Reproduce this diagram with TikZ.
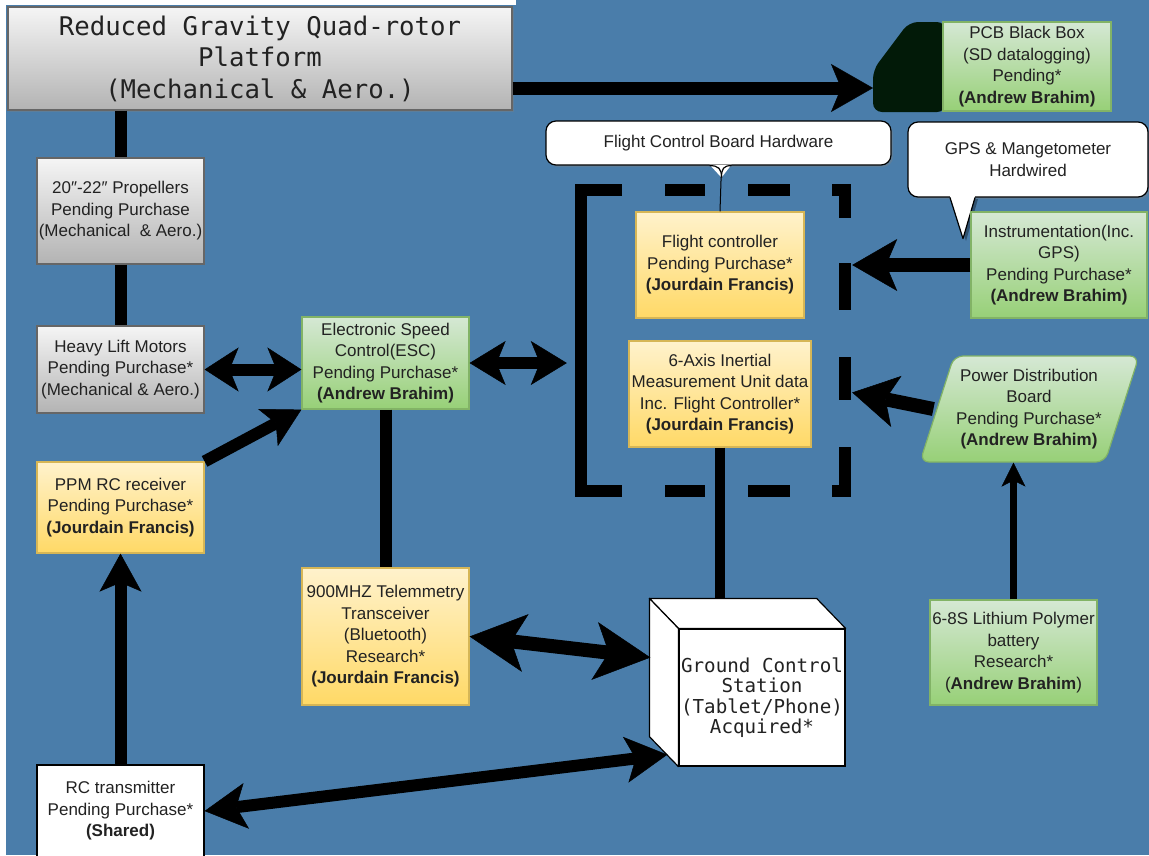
\documentclass[tikz,border=0pt]{standalone}
\usepackage{fontspec}
\usetikzlibrary{arrows.meta,calc,shadows}
\newfontfamily\arialf{Liberation Sans}
\newfontfamily\monof{DejaVu Sans Mono}
\definecolor{bgblue}{HTML}{4A7DAA}
\definecolor{gtop}{HTML}{F5F5F5}
\definecolor{gbot}{HTML}{B3B3B3}
\definecolor{gline}{HTML}{666666}
\definecolor{grtop}{HTML}{D5E8D4}
\definecolor{grbot}{HTML}{97D077}
\definecolor{grline}{HTML}{82B366}
\definecolor{ytop}{HTML}{FFF2CC}
\definecolor{ybot}{HTML}{FFD966}
\definecolor{yline}{HTML}{D6B656}
\definecolor{txt}{HTML}{222222}
\definecolor{bbfill}{HTML}{021A08}
\newcommand\boxfont{\arialf\fontsize{17}{21.5}\selectfont}
\newcommand\titlefont{\monof\fontsize{25.7}{31.5}\selectfont}
\newcommand\gcsfont{\monof\fontsize{19.2}{20.5}\selectfont}
\tikzset{
  box/.style={rectangle, draw, line width=1.2pt, inner sep=0pt, align=center, text=txt, font=\boxfont},
  graybox/.style={box, draw=gline, top color=gtop, bottom color=gbot},
  greenbox/.style={box, draw=grline, top color=grtop, bottom color=grbot},
  yellowbox/.style={box, draw=yline, top color=ytop, bottom color=ybot},
  whitebox/.style={box, draw=black, fill=white},
  callout/.style={box, draw=black, fill=white, rounded corners=10pt},
  conn/.style={draw=black, line width=12pt},
  hT/.tip={Stealth[length=42pt,width=48pt,inset=10pt,line width=0.5pt]},
  hM/.tip={Stealth[length=34pt,width=44pt,inset=9pt,line width=0.5pt]},
  hE/.tip={Stealth[length=36pt,width=44pt,inset=9pt,line width=0.5pt]},
  hP/.tip={Stealth[length=38pt,width=42pt,inset=9pt,line width=0.5pt]},
  hR/.tip={Stealth[length=42pt,width=46pt,inset=10pt,line width=0.5pt]},
  hG/.tip={Stealth[length=56pt,width=58pt,inset=14pt,line width=0.5pt]},
  hI/.tip={Stealth[length=45pt,width=52pt,inset=11pt,line width=0.5pt]},
  hB/.tip={Stealth[length=24pt,width=24pt,inset=6pt,line width=0.5pt]},
}
\begin{document}
\begin{tikzpicture}[x=1pt,y=-1pt]
\useasboundingbox (0,0) rectangle (1149,855);
\fill[white] (0,0) rectangle (1149,855);
\fill[bgblue] (6,0) rectangle (1149,855);
\fill[white] (0,0) rectangle (516,5);

% ---------- nodes ----------
\node[graybox, font=\titlefont, minimum width=504pt, minimum height=103pt,
      drop shadow={shadow xshift=2pt, shadow yshift=-2pt, opacity=0.35}] (title) at (260,58.5)
  {Reduced Gravity Quad-rotor\\Platform\\(Mechanical \& Aero.)};

\fill[bbfill, rounded corners=9pt] (873,112) -- (873,70) -- (909,22) -- (946,22) -- (946,112) -- cycle;
\coordinate (bbx) at (873,88);

\node[greenbox, minimum width=168pt, minimum height=89pt] (pcb) at (1027,66.5)
  {PCB Black Box\\(SD datalogging)\\Pending*\\\textbf{(Andrew Brahim)}};

\node[callout, minimum width=345pt, minimum height=44pt,
      drop shadow={shadow xshift=2pt, shadow yshift=-2pt, opacity=0.35}] (fccall) at (718.5,143)
  {Flight Control Board Hardware};

\fill[black, opacity=0.35] (952,199) -- (966,241) -- (978,199) -- cycle;
\node[callout, minimum width=240pt, minimum height=75pt,
      drop shadow={shadow xshift=2pt, shadow yshift=-2pt, opacity=0.35}] (gpscall) at (1028,159.5)
  {GPS \& Mangetometer\\Hardwired};
\fill[white] ($(gpscall.south)+(-78,-1.5)$) -- ($(gpscall.south)+(-65,41)$) -- ($(gpscall.south)+(-53,-1.5)$) -- cycle;
\draw[line width=1.2pt, line join=round] ($(gpscall.south)+(-78,0)$) -- ($(gpscall.south)+(-65,41)$) -- ($(gpscall.south)+(-53,0)$);

\node[graybox, minimum width=167pt, minimum height=106pt] (prop) at (120.5,211)
  {20″-22″ Propellers\\Pending Purchase\\(Mechanical\ \ \& Aero.)};
\node[graybox, minimum width=167pt, minimum height=87pt] (motor) at (120.5,369.5)
  {Heavy Lift Motors\\Pending Purchase*\\(Mechanical \& Aero.)};
\node[greenbox, minimum width=167pt, minimum height=92pt] (esc) at (385.5,363)
  {Electronic Speed\\Control(ESC)\\Pending Purchase*\\\textbf{(Andrew Brahim)}};
\node[yellowbox, minimum width=167pt, minimum height=91pt] (ppm) at (120.5,507.5)
  {PPM RC receiver\\Pending Purchase*\\\textbf{(Jourdain Francis)}};
\node[yellowbox, minimum width=167pt, minimum height=137pt] (tele) at (385.5,636.5)
  {900MHZ Telemmetry\\Transceiver\\(Bluetooth)\\Research*\\\textbf{(Jourdain Francis)}};
\node[whitebox, minimum width=167pt, minimum height=92pt] (rc) at (120.5,811)
  {RC transmitter\\Pending Purchase*\\\textbf{(Shared)}};

\node[yellowbox, minimum width=168pt, minimum height=106pt] (fc) at (720,265)
  {Flight controller\\Pending Purchase*\\\textbf{(Jourdain Francis)}};
\node[yellowbox, minimum width=182pt, minimum height=106pt] (imu) at (720,394)
  {6-Axis Inertial\\Measurement Unit data\\Inc. Flight Controller*\\\textbf{(Jourdain Francis)}};
\node[greenbox, minimum width=176pt, minimum height=106pt] (inst) at (1059,265)
  {Instrumentation(Inc.\\GPS)\\Pending Purchase*\\\textbf{(Andrew Brahim)}};

% power distribution board (parallelogram)
\shade[top color=grtop, bottom color=grbot, draw=grline, line width=1.2pt, rounded corners=9pt]
  (954,356) -- (1139,356) -- (1105,462) -- (920,462) -- cycle;
\node[box, draw=none, minimum width=190pt, minimum height=106pt] (pdb) at (1029,409)
  {Power Distribution\\Board\\Pending Purchase*\\\textbf{(Andrew Brahim)}};

\node[greenbox, minimum width=167pt, minimum height=105pt] (bat) at (1013.5,652.5)
  {6-8S Lithium Polymer\\battery\\Research*\\(\textbf{Andrew Brahim})};

% ground control station cube
\node[whitebox, font=\gcsfont, minimum width=166pt, minimum height=137pt] (gcs) at (762,697.5)
  {Ground Control\\Station\\(Tablet/Phone)\\Acquired*};
\filldraw[fill=white, draw=black, line width=1.2pt, line join=round]
  (gcs.north west) -- ++(-29,-30) -- ($(gcs.north east)+(-29,-30)$) -- (gcs.north east) -- cycle;
\filldraw[fill=white, draw=black, line width=1.2pt, line join=round]
  (gcs.north west) -- ++(-29,-30) -- ($(gcs.south west)+(-29,-30)$) -- (gcs.south west) -- cycle;
\coordinate (gcstop) at ($(gcs.north)+(-42,-30)$);
\coordinate (gcsL) at ($(gcs.west)+(-28,-40)$);
\coordinate (gcsLB) at ($(gcs.south west)+(-11,-12)$);

% flight control group (dashed outline)
\node[minimum width=264pt, minimum height=301pt, inner sep=0pt] (grp) at (713,340.5) {};
\begin{scope}[line width=12pt, black]
  \draw (622,190) -- (581,190) -- (581,491) -- (622,491);
  \draw (665,190) -- (705,190);
  \draw (748,190) -- (790,190);
  \draw (832,190) -- (845,190) -- (845,218);
  \draw (845,263) -- (845,310);
  \draw (845,357) -- (845,400);
  \draw (845,447) -- (845,491) -- (832,491);
  \draw (665,491) -- (705,491);
  \draw (748,491) -- (790,491);
\end{scope}

% ---------- connectors ----------
\draw[conn, line width=13pt, -hT] ($(title.east)+(0,29.5)$) -- (bbx);
\draw[conn] (title.south -| prop.north) -- (prop.north);
\draw[conn] (prop.south) -- (motor.north);
\draw[conn, hM-hM] (motor.east) -- (motor.east -| esc.west);
\draw[conn, hE-hE] (esc.east) -- ($(esc.east -| grp.west)+(-14,0)$);
\draw[conn] (esc.south) -- (tele.north);
\draw[conn, -hP] (ppm.north east) -- (esc.south west);
\draw[conn, -hP] (rc.north) -- (ppm.south);
\draw[conn, hR-hR] (rc.east) -- (gcsLB);
\draw[conn, line width=14pt, hG-hG] (tele.east) -- (gcsL);
\draw[conn, line width=10pt] (imu.south) -- (imu.south |- gcstop);
\draw[conn, line width=14pt, -hI] (inst.west) -- ($(inst.west -| grp.east)+(7,0)$);
\draw[conn, line width=14pt, -hI] (pdb.west) -- ($(grp.east)+(7,52)$);
\draw[conn, line width=7pt, -hB] (bat.north) -- (bat.north |- pdb.south);

% callout pointer to flight controller
\draw[line width=1pt] ($(fccall.south)+(3,0)$) -- (fc.north);
\fill[white] ($(fccall.south)+(-9,-1)$) -- ($(fccall.south)+(3,12)$) -- ($(fccall.south)+(13,-1)$) -- cycle;
\draw[line width=1.2pt] ($(fccall.south)+(-9,0)$) .. controls ($(fccall.south)+(0,0)$) and ($(fccall.south)+(3,3)$) .. ($(fccall.south)+(3,12)$);
\draw[line width=1.2pt] ($(fccall.south)+(13,0)$) .. controls ($(fccall.south)+(5,0)$) and ($(fccall.south)+(3,3)$) .. ($(fccall.south)+(3,12)$);
\end{tikzpicture}
\end{document}
